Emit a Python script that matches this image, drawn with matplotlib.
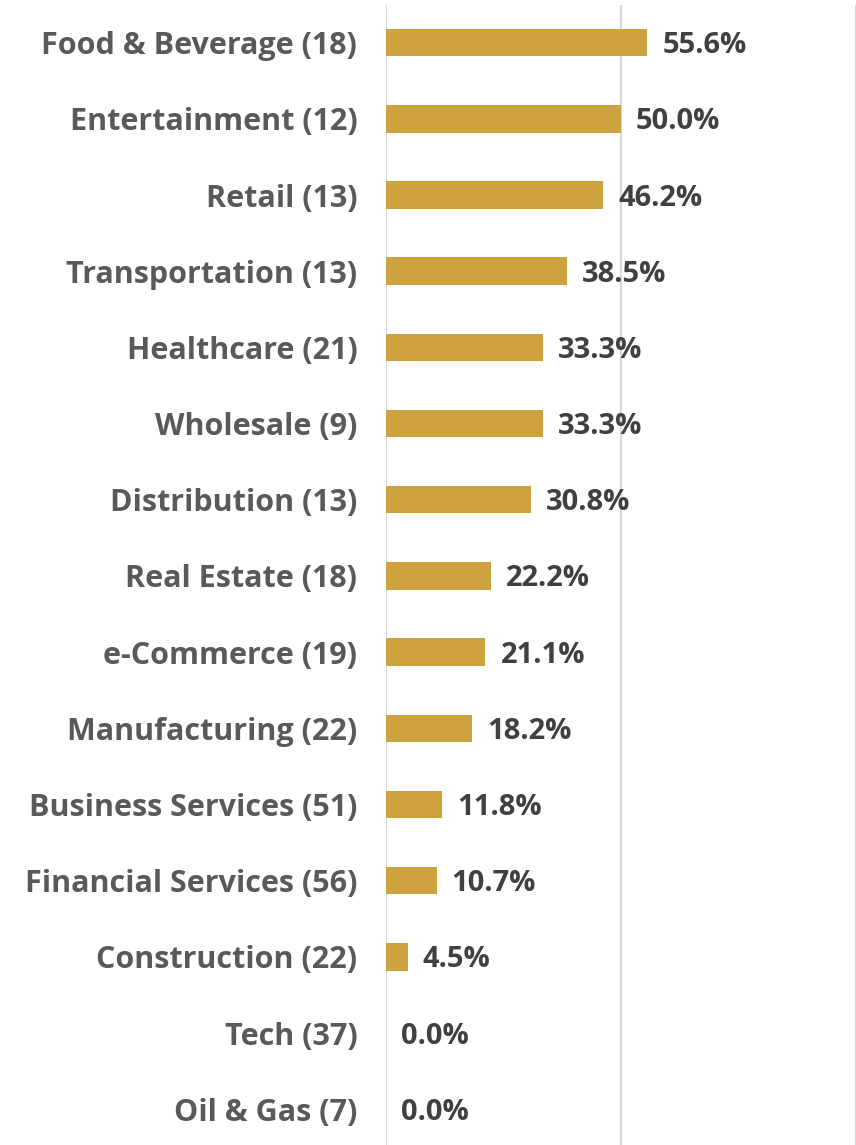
import numpy as np
import matplotlib
matplotlib.use('Agg')
import matplotlib.pyplot as plt

plt.rcParams['font.family'] = ['Open Sans', 'DejaVu Sans']

# 数据
categories = ['Food & Beverage (18)', 'Entertainment (12)', 'Retail (13)',
              'Transportation (13)', 'Healthcare (21)', 'Wholesale (9)',
              'Distribution (13)', 'Real Estate (18)', 'e-Commerce (19)',
              'Manufacturing (22)', 'Business Services (51)',
              'Financial Services (56)', 'Construction (22)', 'Tech (37)',
              'Oil & Gas (7)']
values = [55.6, 50.0, 46.2, 38.5, 33.3, 33.3, 30.8, 22.2, 21.1, 18.2,
          11.8, 10.7, 4.5, 0.0, 0.0]

bar_color = '#CDA23F'
label_color = '#595959'
value_color = '#404040'

fig = plt.figure(figsize=(8.56, 11.45), dpi=100)
ax = fig.add_axes([0.4515, -0.002, 0.548, 0.998])

y = np.arange(len(categories))
ax.barh(y, values, height=0.36, color=bar_color, zorder=3)

for yi, v in zip(y, values):
    ax.text(v + 3.2, yi + 0.04, f'{v:.1f}%', va='center', ha='left',
            fontsize=21, fontweight='bold', color=value_color, zorder=4)

ax.set_yticks(y)
ax.set_yticklabels(categories, fontsize=22, fontweight='bold', color=label_color)
ax.tick_params(axis='y', length=0, pad=21)
ax.set_ylim(len(categories) - 0.5, -0.5)

ax.set_xlim(0, 100)
ax.set_xticks([0, 50, 100])
ax.tick_params(axis='x', length=0, labelbottom=False)
ax.grid(axis='x', color='#D9D9D9', linewidth=1.5, zorder=0)
for s in ax.spines.values():
    s.set_visible(False)

fig.savefig('out.png', dpi=100)
